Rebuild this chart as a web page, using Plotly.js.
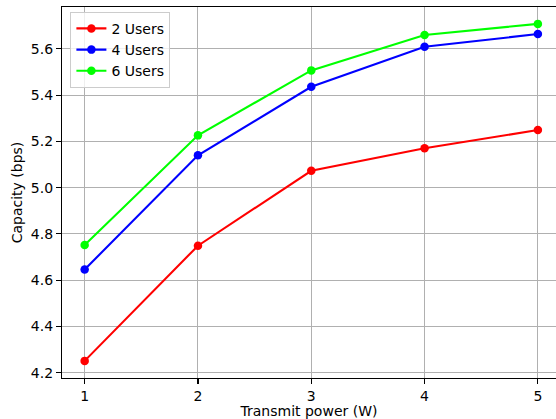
<!DOCTYPE html>
<html>
<head>
<meta charset="utf-8">
<script src="https://cdn.plot.ly/plotly-3.0.1.min.js"></script>
<style>
  html, body { margin: 0; padding: 0; background: #fff; }
  #chart { width: 556px; height: 419px; }
</style>
</head>
<body>
<div id="chart"></div>
<script>
// Transmit power levels (W)
const power = [1, 2, 3, 4, 5];

// Capacity (bps) per number of users
const users2 = [4.251, 4.749, 5.073, 5.170, 5.249];
const users4 = [4.646, 5.140, 5.436, 5.609, 5.664];
const users6 = [4.752, 5.226, 5.507, 5.660, 5.708];

const seriesNames = ['2 Users', '4 Users', '6 Users'];
const seriesColors = ['#ff0000', '#0000ff', '#00ff00'];
const seriesValues = [users2, users4, users6];

const xTicks = [1, 2, 3, 4, 5];
const yTicks = [4.2, 4.4, 4.6, 4.8, 5.0, 5.2, 5.4, 5.6];
const yTickText = ['4.2', '4.4', '4.6', '4.8', '5.0', '5.2', '5.4', '5.6'];

const font = 'DejaVu Sans, sans-serif';
const fs = 14;

const traces = seriesValues.map((vals, i) => ({
  x: power,
  y: vals,
  name: seriesNames[i],
  type: 'scatter',
  mode: 'lines+markers',
  line: { color: seriesColors[i], width: 2.1 },
  marker: { color: seriesColors[i], size: 8.5 }
}));

const layout = {
  width: 556,
  height: 419,
  margin: { l: 62, r: 0, t: 7, b: 41 },
  paper_bgcolor: '#ffffff',
  plot_bgcolor: '#ffffff',
  font: { family: font, size: fs, color: '#000' },
  showlegend: true,
  legend: {
    x: 0.017, y: 0.987, xanchor: 'left', yanchor: 'top',
    bgcolor: 'rgba(255,255,255,0.8)',
    bordercolor: '#cccccc', borderwidth: 1,
    font: { family: font, size: fs, color: '#000' },
    tracegroupgap: 0,
    itemwidth: 30
  },
  xaxis: {
    range: [0.8, 5.16],
    tickvals: xTicks,
    ticktext: xTicks.map(String),
    showgrid: true, gridcolor: '#b0b0b0', gridwidth: 1,
    zeroline: false,
    showline: true, linecolor: '#000', linewidth: 1.1, mirror: true,
    ticks: 'outside', ticklen: 5, tickwidth: 1.1, tickcolor: '#000',
    tickfont: { family: font, size: fs, color: '#000' },
    title: { text: 'Transmit power (W)', font: { family: font, size: fs, color: '#000' }, standoff: 6 }
  },
  yaxis: {
    range: [4.177, 5.781],
    tickvals: yTicks,
    ticktext: yTickText,
    showgrid: true, gridcolor: '#b0b0b0', gridwidth: 1,
    zeroline: false,
    showline: true, linecolor: '#000', linewidth: 1.1, mirror: false,
    ticks: 'outside', ticklen: 5, tickwidth: 1.1, tickcolor: '#000',
    tickfont: { family: font, size: fs, color: '#000' },
    title: { text: 'Capacity (bps)', font: { family: font, size: fs, color: '#000' }, standoff: 4 }
  }
};

Plotly.newPlot('chart', traces, layout, { displayModeBar: false, staticPlot: true });
</script>
</body>
</html>
